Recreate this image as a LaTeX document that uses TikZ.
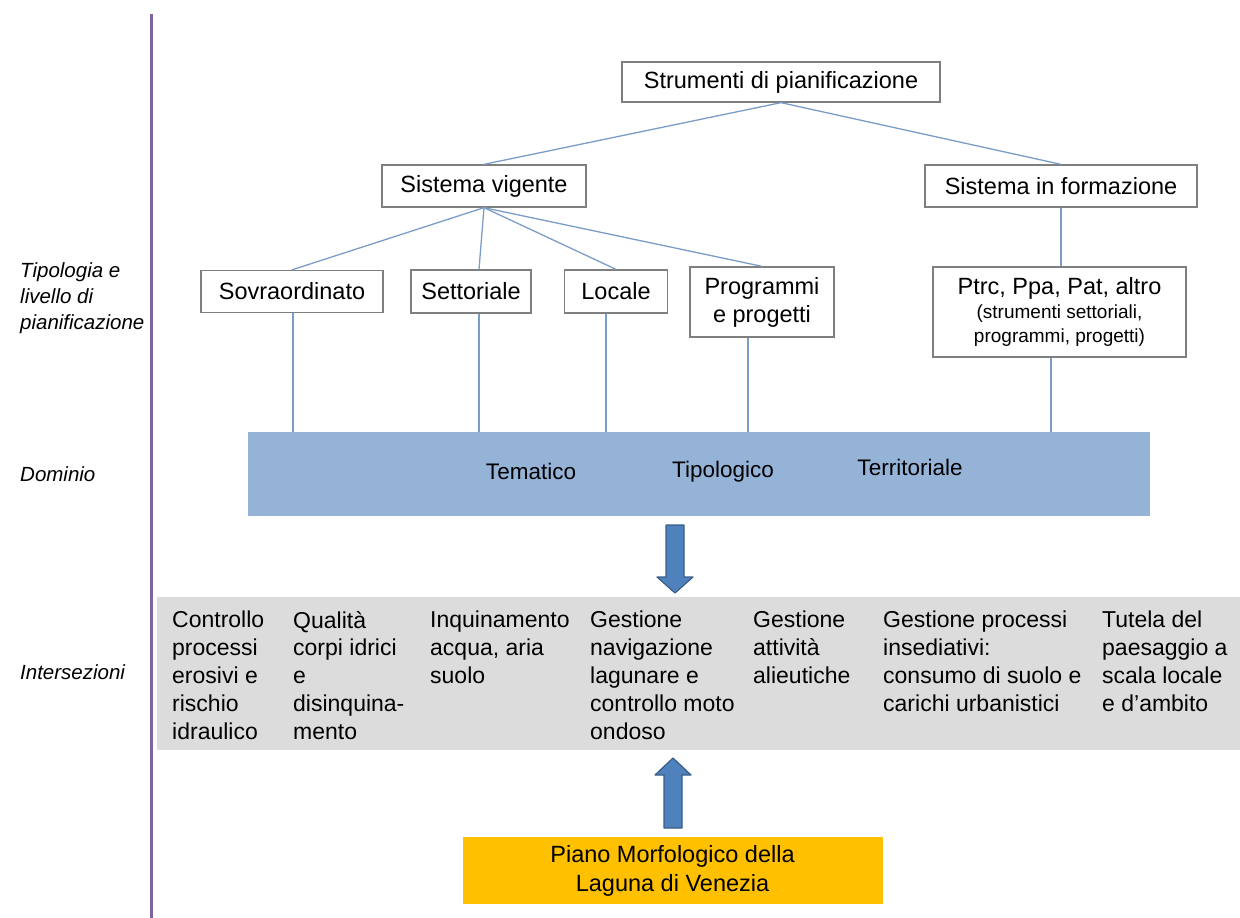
\documentclass[tikz,border=0pt]{standalone}
\usepackage{fontspec}
\setmainfont{Liberation Sans}
\usetikzlibrary{calc}
\definecolor{boxgray}{HTML}{7F7F7F}
\definecolor{connblue}{HTML}{7C9CC8}
\definecolor{barblue}{HTML}{95B3D7}
\definecolor{bandgray}{HTML}{DCDCDC}
\definecolor{orangefill}{HTML}{FFC000}
\definecolor{arrowblue}{HTML}{4F81BD}
\definecolor{arrowdark}{HTML}{385D8A}
\definecolor{purpleline}{HTML}{8064A2}
\begin{document}
\begin{tikzpicture}[x=1pt,y=-1pt,
  box/.style={draw=boxgray, line width=1.3pt, fill=white, inner sep=0pt, align=center, font=\fontsize{23.5}{28}\selectfont},
  conn/.style={draw=connblue, line width=1.3pt},
  lbl/.style={font=\fontsize{20.5}{26}\selectfont\itshape, align=left, anchor=north west, inner sep=0pt},
  col/.style={font=\fontsize{23}{27.8}\selectfont, align=left, anchor=north west, inner sep=0pt},
  bartext/.style={font=\fontsize{22.5}{27}\selectfont, inner sep=0pt},
  blockarrow/.style={fill=arrowblue, draw=arrowdark, line width=1.2pt, line join=round}]
\useasboundingbox (0,0) rectangle (1240,918);

% left vertical line
\draw[purpleline, line width=3pt] (151,14) -- (151,918);

% left labels
\node[lbl] (l1) at (20,262) {Tipologia e\\livello di\\pianificazione};
\node[lbl] (l2) at (20,466) {Dominio};
\node[lbl] (l3) at (20,664) {Intersezioni};

% hierarchy boxes
\node[box, minimum width=318pt, minimum height=40pt] (str) at (781,82) {Strumenti di pianificazione};
\node[box, minimum width=204pt, minimum height=42pt] (sv) at (484,186) {Sistema vigente};
\node[box, minimum width=272pt, minimum height=42pt] (sf) at (1061,186) {Sistema in formazione};
\node[box, minimum width=182pt, minimum height=42pt] (sov) at (292,291.5) {Sovraordinato};
\node[box, minimum width=120pt, minimum height=43pt] (set) at (471,291.5) {Settoriale};
\node[box, minimum width=103pt, minimum height=43pt] (loc) at (616,291.5) {Locale};
\node[box, minimum width=144pt, minimum height=70pt] (prg) at (762,302) {Programmi\\e progetti};
\node[box, minimum width=253pt, minimum height=90pt] (ptrc) at (1059.5,312)
  {Ptrc, Ppa, Pat, altro\\[-4pt]{\fontsize{19}{23}\selectfont (strumenti settoriali,}\\[-4pt]{\fontsize{19}{23}\selectfont programmi, progetti)}};

% domain bar
\node[fill=barblue, minimum width=902pt, minimum height=84pt, inner sep=0pt] (bar) at (699,474) {};
\node[bartext] (t1) at (531,471) {Tematico};
\node[bartext] (t2) at (723,472) {Tipologico};
\node[bartext] (t3) at (910,467) {Territoriale};

% connectors
\draw[conn] (str.south) -- (sv.north);
\draw[conn] (str.south) -- (sf.north);
\draw[conn] (sv.south) -- (sov.north);
\draw[conn] (sv.south) -- ($(set.north)+(8,0)$);
\draw[conn] (sv.south) -- (loc.north);
\draw[conn] (sv.south) -- (prg.north);
\draw[conn] (sf.south) -- (ptrc.north -| sf.south);
\coordinate (c1) at (293,0);
\coordinate (c2) at (479,0);
\coordinate (c3) at (606,0);
\coordinate (c4) at (748,0);
\coordinate (c5) at (1051,0);
\draw[conn] (sov.south -| c1) -- (bar.north -| c1);
\draw[conn] (set.south -| c2) -- (bar.north -| c2);
\draw[conn] (loc.south -| c3) -- (bar.north -| c3);
\draw[conn] (prg.south -| c4) -- (bar.north -| c4);
\draw[conn] (ptrc.south -| c5) -- (bar.north -| c5);

% intersections band
\node[fill=bandgray, minimum width=1083pt, minimum height=153pt, inner sep=0pt] (band) at (698.5,673.5) {};
\node[col] (i1) at (172,611) {Controllo\\processi\\erosivi e\\rischio\\idraulico};
\node[col] (i2) at (293,611) {Qualità\\corpi idrici\\e\\disinquina-\\mento};
\node[col] (i3) at (430,611) {Inquinamento\\acqua, aria\\suolo};
\node[col] (i4) at (590,611) {Gestione\\navigazione\\lagunare e\\controllo moto\\ondoso};
\node[col] (i5) at (753,611) {Gestione\\attività\\alieutiche};
\node[col] (i6) at (883,611) {Gestione processi\\insediativi:\\consumo di suolo e\\carichi urbanistici};
\node[col] (i7) at (1102,611) {Tutela del\\paesaggio a\\scala locale\\e d’ambito};

% orange box
\node[fill=orangefill, minimum width=420pt, minimum height=67pt, inner sep=0pt, align=center, font=\fontsize{23.5}{29}\selectfont] (pm) at (672.5,870.5) {Piano Morfologico della\\Laguna di Venezia};

% block arrows
\draw[blockarrow] (666,525) -- (684,525) -- (684,577) -- (693,577) -- (675,593) -- (657,577) -- (666,577) -- cycle;
\draw[blockarrow] (664,828) -- (682,828) -- (682,775) -- (691,775) -- (673,758) -- (655,775) -- (664,775) -- cycle;
\end{tikzpicture}
\end{document}
